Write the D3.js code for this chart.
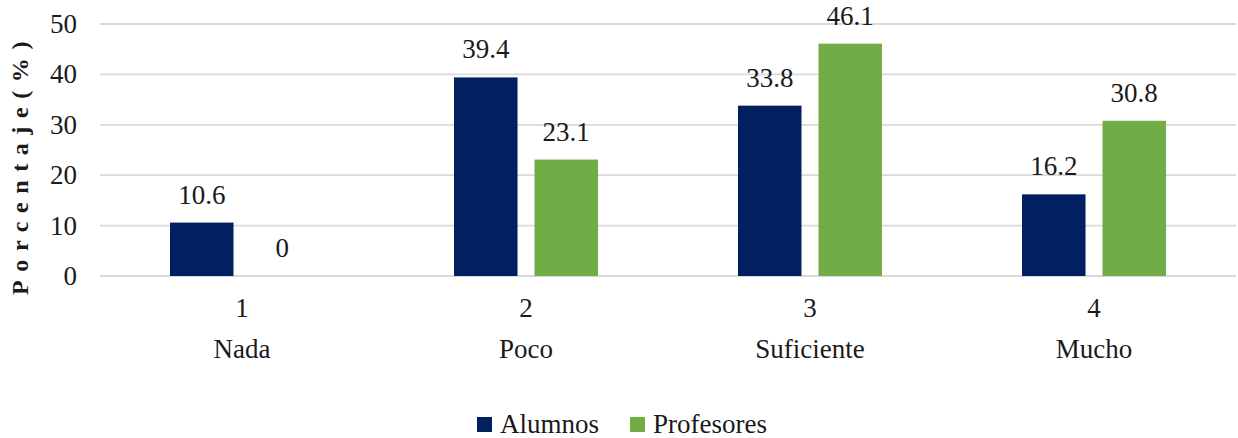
<!DOCTYPE html>
<html>
<head>
<meta charset="utf-8">
<script src="https://cdn.jsdelivr.net/npm/d3@7"></script>
</head>
<body style="margin:0">
<svg id="chart" width="1238" height="438"></svg>
<script>
// Response levels and their names
const levels = ["1", "2", "3", "4"];
const levelNames = ["Nada", "Poco", "Suficiente", "Mucho"];
// Percentage of respondents per level
const alumnos = [10.6, 39.4, 33.8, 16.2];
const profesores = [0, 23.1, 46.1, 30.8];
const seriesNames = ["Alumnos", "Profesores"];
const seriesColors = ["#002060", "#70AD47"];
const yTicks = [0, 10, 20, 30, 40, 50];

const FS = 27;
const FAMILY = "Liberation Serif";
const svg = d3.select("#chart");
const plot = { left: 100, right: 1236, top: 24, bottom: 276 };

const x0 = d3.scaleBand()
  .domain(levels)
  .range([plot.left, plot.right])
  .paddingInner(0.493)
  .paddingOuter(0.2465);

const x1 = d3.scaleBand()
  .domain(seriesNames)
  .range([0, x0.bandwidth()])
  .paddingInner(0.211)
  .paddingOuter(0);

const y = d3.scaleLinear().domain([0, 50]).range([plot.bottom, plot.top]);

function label(size) {
  return svg.append("text")
    .attr("font-family", FAMILY)
    .attr("font-size", size)
    .attr("fill", "#1a1a1a");
}

// Horizontal gridlines
svg.selectAll("line.grid")
  .data(yTicks)
  .join("line")
  .attr("class", "grid")
  .attr("x1", plot.left)
  .attr("x2", plot.right)
  .attr("y1", d => y(d))
  .attr("y2", d => y(d))
  .attr("stroke", "#d9d9d9")
  .attr("stroke-width", 1.8);

// Y tick labels
yTicks.forEach(t => {
  label(FS)
    .attr("x", 77)
    .attr("y", y(t))
    .attr("dy", "0.33em")
    .attr("text-anchor", "end")
    .text(y.tickFormat(6)(t));
});

// Y axis title
label(24)
  .attr("transform", "translate(28,164) rotate(-90)")
  .attr("text-anchor", "middle")
  .attr("font-weight", "bold")
  .attr("letter-spacing", 8.6)
  .text("Porcentaje(%)");

// Bars and value labels
const cells = [];
levels.forEach((lv, i) => {
  cells.push({ level: lv, series: seriesNames[0], value: alumnos[i], color: seriesColors[0] });
  cells.push({ level: lv, series: seriesNames[1], value: profesores[i], color: seriesColors[1] });
});
const cx = d => x0(d.level) + x1(d.series);

svg.selectAll("rect.bar")
  .data(cells)
  .join("rect")
  .attr("class", "bar")
  .attr("x", cx)
  .attr("width", x1.bandwidth())
  .attr("y", d => y(d.value))
  .attr("height", d => y(0) - y(d.value))
  .attr("fill", d => d.color);

cells.forEach(d => {
  label(FS)
    .attr("x", cx(d) + x1.bandwidth() / 2)
    .attr("y", y(d.value) - 19)
    .attr("text-anchor", "middle")
    .text(String(d.value));
});

// Category labels: level number and name
levels.forEach((lv, i) => {
  const mid = x0(lv) + x0.bandwidth() / 2;
  label(FS).attr("x", mid).attr("y", 317).attr("text-anchor", "middle").text(lv);
  label(FS).attr("x", mid).attr("y", 358).attr("text-anchor", "middle").text(levelNames[i]);
});

// Legend
const legendX = [477, 630];
seriesNames.forEach((name, k) => {
  svg.append("rect")
    .attr("x", legendX[k])
    .attr("y", 417)
    .attr("width", 15)
    .attr("height", 15)
    .attr("fill", seriesColors[k]);
  label(FS)
    .attr("x", legendX[k] + 23)
    .attr("y", 433)
    .text(name);
});
</script>
</body>
</html>
